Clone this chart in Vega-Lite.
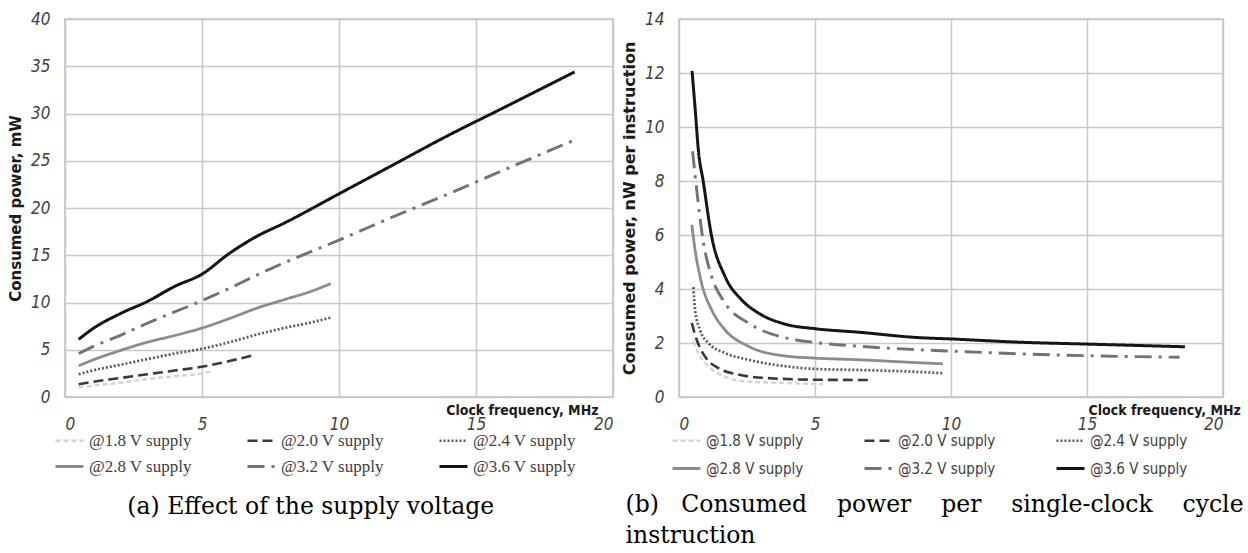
{
  "$schema": "https://vega.github.io/schema/vega-lite/v6.json",
  "background": "white",
  "padding": {"left": 7, "top": 9, "right": 0, "bottom": 0},
  "config": {
    "view": {"stroke": "#bfbfbf", "strokeWidth": 1.5},
    "concat": {"spacing": 6},
    "axis": {
      "ticks": false,
      "domain": false,
      "grid": true,
      "gridColor": "#c8c8c8",
      "gridWidth": 1.5,
      "labelFont": "DejaVu Sans Condensed",
      "labelFontStyle": "italic",
      "labelFontSize": 17,
      "labelColor": "#404040",
      "titleFont": "DejaVu Sans",
      "titleFontWeight": "bold",
      "titleFontSize": 15,
      "titleColor": "#1a1a1a"
    }
  },
  "datasets": {
    "power": [
      {"supply": "@1.8 V supply", "f": 0.5, "v": 1.0},
      {"supply": "@1.8 V supply", "f": 1, "v": 1.2},
      {"supply": "@1.8 V supply", "f": 2, "v": 1.5},
      {"supply": "@1.8 V supply", "f": 3, "v": 1.9},
      {"supply": "@1.8 V supply", "f": 4, "v": 2.2},
      {"supply": "@1.8 V supply", "f": 5, "v": 2.5},
      {"supply": "@1.8 V supply", "f": 5.3, "v": 2.7},
      {"supply": "@2.0 V supply", "f": 0.5, "v": 1.35},
      {"supply": "@2.0 V supply", "f": 1, "v": 1.6},
      {"supply": "@2.0 V supply", "f": 2, "v": 2.0},
      {"supply": "@2.0 V supply", "f": 3, "v": 2.4},
      {"supply": "@2.0 V supply", "f": 4, "v": 2.8},
      {"supply": "@2.0 V supply", "f": 5, "v": 3.2},
      {"supply": "@2.0 V supply", "f": 6, "v": 3.8},
      {"supply": "@2.0 V supply", "f": 6.9, "v": 4.45},
      {"supply": "@2.4 V supply", "f": 0.5, "v": 2.4},
      {"supply": "@2.4 V supply", "f": 1, "v": 2.8},
      {"supply": "@2.4 V supply", "f": 2, "v": 3.4},
      {"supply": "@2.4 V supply", "f": 3, "v": 4.0},
      {"supply": "@2.4 V supply", "f": 4, "v": 4.6},
      {"supply": "@2.4 V supply", "f": 5, "v": 5.1},
      {"supply": "@2.4 V supply", "f": 6, "v": 5.8},
      {"supply": "@2.4 V supply", "f": 7, "v": 6.6},
      {"supply": "@2.4 V supply", "f": 8, "v": 7.3},
      {"supply": "@2.4 V supply", "f": 9, "v": 7.9},
      {"supply": "@2.4 V supply", "f": 9.7, "v": 8.4},
      {"supply": "@2.8 V supply", "f": 0.5, "v": 3.3},
      {"supply": "@2.8 V supply", "f": 1, "v": 3.9},
      {"supply": "@2.8 V supply", "f": 2, "v": 4.9},
      {"supply": "@2.8 V supply", "f": 3, "v": 5.8},
      {"supply": "@2.8 V supply", "f": 4, "v": 6.5},
      {"supply": "@2.8 V supply", "f": 5, "v": 7.3},
      {"supply": "@2.8 V supply", "f": 6, "v": 8.3},
      {"supply": "@2.8 V supply", "f": 7, "v": 9.4},
      {"supply": "@2.8 V supply", "f": 8, "v": 10.3},
      {"supply": "@2.8 V supply", "f": 9, "v": 11.2},
      {"supply": "@2.8 V supply", "f": 9.7, "v": 12.0},
      {"supply": "@3.2 V supply", "f": 0.5, "v": 4.6},
      {"supply": "@3.2 V supply", "f": 1, "v": 5.3},
      {"supply": "@3.2 V supply", "f": 2, "v": 6.5},
      {"supply": "@3.2 V supply", "f": 3, "v": 7.8},
      {"supply": "@3.2 V supply", "f": 4, "v": 9.0},
      {"supply": "@3.2 V supply", "f": 5, "v": 10.2},
      {"supply": "@3.2 V supply", "f": 6, "v": 11.5},
      {"supply": "@3.2 V supply", "f": 7, "v": 12.9},
      {"supply": "@3.2 V supply", "f": 8, "v": 14.2},
      {"supply": "@3.2 V supply", "f": 10, "v": 16.6},
      {"supply": "@3.2 V supply", "f": 12, "v": 19.1},
      {"supply": "@3.2 V supply", "f": 14, "v": 21.5},
      {"supply": "@3.2 V supply", "f": 16, "v": 24.0},
      {"supply": "@3.2 V supply", "f": 18.6, "v": 27.2},
      {"supply": "@3.6 V supply", "f": 0.5, "v": 6.1},
      {"supply": "@3.6 V supply", "f": 1, "v": 7.2},
      {"supply": "@3.6 V supply", "f": 2, "v": 8.8},
      {"supply": "@3.6 V supply", "f": 3, "v": 10.1},
      {"supply": "@3.6 V supply", "f": 4, "v": 11.7},
      {"supply": "@3.6 V supply", "f": 5, "v": 13.0},
      {"supply": "@3.6 V supply", "f": 6, "v": 15.2},
      {"supply": "@3.6 V supply", "f": 7, "v": 17.0},
      {"supply": "@3.6 V supply", "f": 8, "v": 18.4},
      {"supply": "@3.6 V supply", "f": 10, "v": 21.5},
      {"supply": "@3.6 V supply", "f": 12, "v": 24.6},
      {"supply": "@3.6 V supply", "f": 14, "v": 27.7},
      {"supply": "@3.6 V supply", "f": 16, "v": 30.6},
      {"supply": "@3.6 V supply", "f": 18.6, "v": 34.4}
    ],
    "energy": [
      {"supply": "@1.8 V supply", "f": 0.53, "v": 2.06},
      {"supply": "@1.8 V supply", "f": 0.71, "v": 1.63},
      {"supply": "@1.8 V supply", "f": 1.08, "v": 1.14},
      {"supply": "@1.8 V supply", "f": 1.69, "v": 0.75},
      {"supply": "@1.8 V supply", "f": 2.43, "v": 0.58},
      {"supply": "@1.8 V supply", "f": 3.9, "v": 0.52},
      {"supply": "@1.8 V supply", "f": 5.3, "v": 0.48},
      {"supply": "@2.0 V supply", "f": 0.47, "v": 2.74},
      {"supply": "@2.0 V supply", "f": 0.65, "v": 2.12},
      {"supply": "@2.0 V supply", "f": 0.96, "v": 1.49},
      {"supply": "@2.0 V supply", "f": 1.45, "v": 1.07},
      {"supply": "@2.0 V supply", "f": 2.18, "v": 0.83},
      {"supply": "@2.0 V supply", "f": 3.28, "v": 0.7},
      {"supply": "@2.0 V supply", "f": 5.0, "v": 0.64},
      {"supply": "@2.0 V supply", "f": 6.96, "v": 0.63},
      {"supply": "@2.4 V supply", "f": 0.53, "v": 4.07},
      {"supply": "@2.4 V supply", "f": 0.59, "v": 3.23},
      {"supply": "@2.4 V supply", "f": 0.77, "v": 2.49},
      {"supply": "@2.4 V supply", "f": 1.08, "v": 2.0},
      {"supply": "@2.4 V supply", "f": 1.69, "v": 1.63},
      {"supply": "@2.4 V supply", "f": 2.55, "v": 1.38},
      {"supply": "@2.4 V supply", "f": 3.9, "v": 1.14},
      {"supply": "@2.4 V supply", "f": 5.0, "v": 1.04},
      {"supply": "@2.4 V supply", "f": 6.6, "v": 1.0},
      {"supply": "@2.4 V supply", "f": 8.8, "v": 0.93},
      {"supply": "@2.4 V supply", "f": 9.7, "v": 0.88},
      {"supply": "@2.8 V supply", "f": 0.47, "v": 6.38},
      {"supply": "@2.8 V supply", "f": 0.59, "v": 5.46},
      {"supply": "@2.8 V supply", "f": 0.83, "v": 4.22},
      {"supply": "@2.8 V supply", "f": 1.2, "v": 3.23},
      {"supply": "@2.8 V supply", "f": 1.69, "v": 2.49},
      {"supply": "@2.8 V supply", "f": 2.55, "v": 1.88},
      {"supply": "@2.8 V supply", "f": 3.9, "v": 1.52},
      {"supply": "@2.8 V supply", "f": 5.0, "v": 1.44},
      {"supply": "@2.8 V supply", "f": 6.6, "v": 1.38},
      {"supply": "@2.8 V supply", "f": 8.8, "v": 1.27},
      {"supply": "@2.8 V supply", "f": 9.7, "v": 1.23},
      {"supply": "@3.2 V supply", "f": 0.5, "v": 9.1},
      {"supply": "@3.2 V supply", "f": 0.65, "v": 7.68},
      {"supply": "@3.2 V supply", "f": 0.89, "v": 5.77},
      {"supply": "@3.2 V supply", "f": 1.2, "v": 4.47},
      {"supply": "@3.2 V supply", "f": 1.69, "v": 3.48},
      {"supply": "@3.2 V supply", "f": 2.55, "v": 2.74},
      {"supply": "@3.2 V supply", "f": 3.9, "v": 2.19},
      {"supply": "@3.2 V supply", "f": 5.0, "v": 2.02},
      {"supply": "@3.2 V supply", "f": 6.6, "v": 1.88},
      {"supply": "@3.2 V supply", "f": 8.8, "v": 1.75},
      {"supply": "@3.2 V supply", "f": 10, "v": 1.7},
      {"supply": "@3.2 V supply", "f": 12.5, "v": 1.6},
      {"supply": "@3.2 V supply", "f": 15.4, "v": 1.52},
      {"supply": "@3.2 V supply", "f": 18.4, "v": 1.47},
      {"supply": "@3.6 V supply", "f": 0.48, "v": 12.08},
      {"supply": "@3.6 V supply", "f": 0.6, "v": 10.6},
      {"supply": "@3.6 V supply", "f": 0.71, "v": 9.16},
      {"supply": "@3.6 V supply", "f": 0.89, "v": 7.99},
      {"supply": "@3.6 V supply", "f": 1.2, "v": 5.95},
      {"supply": "@3.6 V supply", "f": 1.69, "v": 4.47},
      {"supply": "@3.6 V supply", "f": 2.3, "v": 3.6},
      {"supply": "@3.6 V supply", "f": 2.92, "v": 3.11},
      {"supply": "@3.6 V supply", "f": 3.9, "v": 2.7},
      {"supply": "@3.6 V supply", "f": 5.0, "v": 2.53},
      {"supply": "@3.6 V supply", "f": 6.6, "v": 2.4},
      {"supply": "@3.6 V supply", "f": 8.8, "v": 2.2},
      {"supply": "@3.6 V supply", "f": 10, "v": 2.15},
      {"supply": "@3.6 V supply", "f": 12.5, "v": 2.03},
      {"supply": "@3.6 V supply", "f": 15, "v": 1.96},
      {"supply": "@3.6 V supply", "f": 18.6, "v": 1.86}
    ]
  },
  "resolve": {
    "scale": {"color": "independent", "strokeDash": "independent", "strokeWidth": "independent"},
    "legend": {"color": "independent", "strokeDash": "independent", "strokeWidth": "independent"}
  },
  "hconcat": [
    {
      "width": 548,
      "height": 378,
      "title": {"text": "(a) Effect of the supply voltage", "orient": "bottom", "anchor": "middle", "frame": "bounds", "font": "DejaVu Serif", "fontSize": 23.5, "fontWeight": "normal", "color": "#000000", "offset": 20},
      "data": {"name": "power"},
      "mark": {"type": "line", "interpolate": "monotone"},
      "encoding": {
        "x": {"field": "f", "type": "quantitative", "scale": {"domain": [0, 20]},
          "axis": {"values": [0, 5, 10, 15, 20], "labelPadding": 19, "title": "Clock frequency, MHz", "titleFont": "DejaVu Sans Condensed", "titleFontSize": 14, "titleX": 533, "titleY": 13, "titleAlign": "right", "titleBaseline": "middle"}},
        "y": {"field": "v", "type": "quantitative", "scale": {"domain": [0, 40]},
          "axis": {"values": [0, 5, 10, 15, 20, 25, 30, 35, 40], "labelPadding": 15, "title": "Consumed power, mW", "titlePadding": 7}},
        "color": {"field": "supply", "type": "nominal",
          "scale": {"domain": ["@1.8 V supply", "@2.0 V supply", "@2.4 V supply", "@2.8 V supply", "@3.2 V supply", "@3.6 V supply"], "range": ["#d4d4d4", "#3a3a3a", "#595959", "#8c8c8c", "#737373", "#151515"]},
          "legend": {"title": null, "orient": "none", "legendX": -11, "legendY": 406, "columns": 3, "direction": "horizontal", "symbolType": "stroke", "symbolSize": 784, "labelFont": "Liberation Serif", "labelFontSize": 17, "labelColor": "#404040", "labelOffset": 4, "columnPadding": 48, "rowPadding": 2}},
        "strokeDash": {"field": "supply", "type": "nominal",
          "scale": {"domain": ["@1.8 V supply", "@2.0 V supply", "@2.4 V supply", "@2.8 V supply", "@3.2 V supply", "@3.6 V supply"], "range": [[5, 3], [10, 5], [2, 2], [1, 0], [17, 7, 3, 7], [1, 0]]},
          "legend": {"title": null, "orient": "none", "legendX": -11, "legendY": 406, "columns": 3, "direction": "horizontal", "symbolType": "stroke", "symbolSize": 784, "labelFont": "Liberation Serif", "labelFontSize": 17, "labelColor": "#404040", "labelOffset": 4, "columnPadding": 48, "rowPadding": 2}},
        "strokeWidth": {"field": "supply", "type": "nominal",
          "scale": {"domain": ["@1.8 V supply", "@2.0 V supply", "@2.4 V supply", "@2.8 V supply", "@3.2 V supply", "@3.6 V supply"], "range": [2.5, 3, 2.5, 2.5, 2.5, 3]},
          "legend": {"title": null, "orient": "none", "legendX": -11, "legendY": 406, "columns": 3, "direction": "horizontal", "symbolType": "stroke", "symbolSize": 784, "labelFont": "Liberation Serif", "labelFontSize": 17, "labelColor": "#404040", "labelOffset": 4, "columnPadding": 48, "rowPadding": 2}}
      }
    },
    {
      "width": 544,
      "height": 378,
      "title": {"text": ["(b)\u00a0\u00a0 Consumed\u00a0\u00a0\u00a0 power\u00a0\u00a0\u00a0 per\u00a0\u00a0\u00a0 single-clock\u00a0\u00a0\u00a0 cycle", "instruction"], "orient": "bottom", "anchor": "start", "frame": "bounds", "dx": 4, "font": "DejaVu Serif", "fontSize": 23.5, "fontWeight": "normal", "color": "#000000", "offset": 16, "lineHeight": 31},
      "data": {"name": "energy"},
      "mark": {"type": "line", "interpolate": "monotone"},
      "encoding": {
        "x": {"field": "f", "type": "quantitative", "scale": {"domain": [0, 20]},
          "axis": {"values": [0, 5, 10, 15, 20], "labelPadding": 19, "title": "Clock frequency, MHz", "titleFont": "DejaVu Sans Condensed", "titleFontSize": 14, "titleX": 409, "titleY": 13, "titleAlign": "left", "titleBaseline": "middle"}},
        "y": {"field": "v", "type": "quantitative", "scale": {"domain": [0, 14]},
          "axis": {"values": [0, 2, 4, 6, 8, 10, 12, 14], "labelPadding": 15, "title": "Consumed power, nW per instruction", "titleFontSize": 16, "titlePadding": 7}},
        "color": {"field": "supply", "type": "nominal",
          "scale": {"domain": ["@1.8 V supply", "@2.0 V supply", "@2.4 V supply", "@2.8 V supply", "@3.2 V supply", "@3.6 V supply"], "range": ["#d4d4d4", "#3a3a3a", "#595959", "#8c8c8c", "#737373", "#151515"]},
          "legend": {"title": null, "orient": "none", "legendX": -8, "legendY": 406, "columns": 3, "direction": "horizontal", "symbolType": "stroke", "symbolSize": 784, "labelFont": "DejaVu Sans Condensed", "labelFontSize": 15, "labelColor": "#404040", "labelOffset": 4, "columnPadding": 54, "rowPadding": 4}},
        "strokeDash": {"field": "supply", "type": "nominal",
          "scale": {"domain": ["@1.8 V supply", "@2.0 V supply", "@2.4 V supply", "@2.8 V supply", "@3.2 V supply", "@3.6 V supply"], "range": [[5, 3], [10, 5], [2, 2], [1, 0], [17, 7, 3, 7], [1, 0]]},
          "legend": {"title": null, "orient": "none", "legendX": -8, "legendY": 406, "columns": 3, "direction": "horizontal", "symbolType": "stroke", "symbolSize": 784, "labelFont": "DejaVu Sans Condensed", "labelFontSize": 15, "labelColor": "#404040", "labelOffset": 4, "columnPadding": 54, "rowPadding": 4}},
        "strokeWidth": {"field": "supply", "type": "nominal",
          "scale": {"domain": ["@1.8 V supply", "@2.0 V supply", "@2.4 V supply", "@2.8 V supply", "@3.2 V supply", "@3.6 V supply"], "range": [2.5, 3, 2.5, 2.5, 2.5, 3]},
          "legend": {"title": null, "orient": "none", "legendX": -8, "legendY": 406, "columns": 3, "direction": "horizontal", "symbolType": "stroke", "symbolSize": 784, "labelFont": "DejaVu Sans Condensed", "labelFontSize": 15, "labelColor": "#404040", "labelOffset": 4, "columnPadding": 54, "rowPadding": 4}}
      }
    }
  ]
}
